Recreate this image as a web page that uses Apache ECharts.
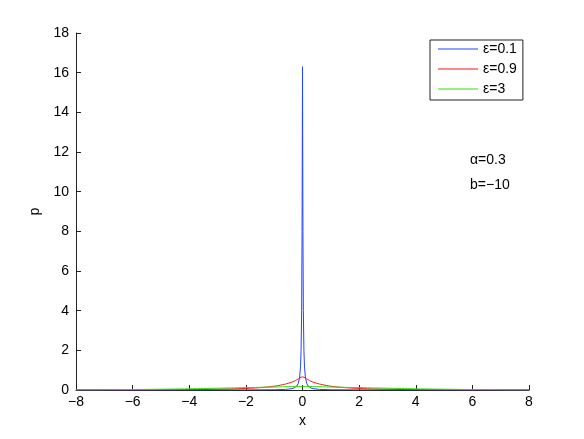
<!DOCTYPE html>
<html>
<head>
<meta charset="utf-8">
<script src="https://cdn.jsdelivr.net/npm/echarts@6/dist/echarts.min.js"></script>
<style>
  html, body { margin: 0; padding: 0; background: #fff; }
  #chart { width: 584px; height: 439px; }
</style>
</head>
<body>
<div id="chart"></div>
<script>
// values
var seriesNames = ['ε=0.1', 'ε=0.9', 'ε=3']
var seriesColors = ['#2244ff', '#ff1111', '#33dd00']

var xBlue = [-8, -4, -2, -1, -0.6, -0.4, -0.3, -0.2, -0.15, -0.1, -0.07, -0.05, -0.03, -0.015, 0,
  0.015, 0.03, 0.05, 0.07, 0.1, 0.15, 0.2, 0.3, 0.4, 0.6, 1, 2, 4, 8]
var yBlue = [0.0, 0.002, 0.005, 0.012, 0.03, 0.06, 0.1, 0.2, 0.33, 0.65, 1.2, 2.0, 4.0, 8.0, 16.3,
  8.0, 4.0, 2.0, 1.2, 0.65, 0.33, 0.2, 0.1, 0.06, 0.03, 0.012, 0.005, 0.002, 0.0]

var xRed = [-8, -6, -5, -4, -3, -2, -1.5, -1, -0.7, -0.5, -0.3, -0.2, -0.1, 0,
  0.1, 0.2, 0.3, 0.5, 0.7, 1, 1.5, 2, 3, 4, 5, 6, 8]
var yRed = [0.003, 0.008, 0.012, 0.02, 0.04, 0.08, 0.12, 0.19, 0.27, 0.34, 0.44, 0.52, 0.6, 0.66,
  0.6, 0.52, 0.44, 0.34, 0.27, 0.19, 0.12, 0.08, 0.04, 0.02, 0.012, 0.008, 0.003]

var xGreen = [-8, -7, -6, -5, -4, -3, -2, -1, -0.5, 0, 0.5, 1, 2, 3, 4, 5, 6, 7, 8]
var yGreen = [0.01, 0.015, 0.025, 0.04, 0.06, 0.09, 0.12, 0.15, 0.17, 0.18, 0.17, 0.15, 0.12, 0.09, 0.06, 0.04, 0.025, 0.015, 0.01]

var paramLines = ['α=0.3', 'b=−10']

function pairs (xs, ys) {
  return xs.map(function (x, i) { return [x, ys[i]] })
}

var chart = echarts.init(document.getElementById('chart'))
var font = 'Liberation Sans, Arial, sans-serif'
var axisColor = '#222'

var option = {
  backgroundColor: '#fff',
  animation: false,
  textStyle: { fontFamily: font },
  grid: { left: 76, right: 55, top: 33, bottom: 49, containLabel: false },
  legend: {
    orient: 'vertical',
    left: 430,
    top: 40,
    icon: 'rect',
    itemWidth: 40,
    itemHeight: 1,
    itemGap: 6,
    padding: [2, 6, 4, 8],
    borderColor: '#222',
    borderWidth: 1,
    backgroundColor: '#fff',
    textStyle: { fontFamily: font, fontSize: 14, color: '#000' },
    data: seriesNames
  },
  xAxis: {
    type: 'value',
    min: -8,
    max: 8,
    interval: 2,
    name: 'x',
    nameLocation: 'middle',
    nameGap: 24,
    nameTextStyle: { fontSize: 14, color: '#000' },
    axisLine: { onZero: false, lineStyle: { color: axisColor, width: 1 } },
    axisTick: { inside: true, length: 5, lineStyle: { color: axisColor } },
    axisLabel: { fontSize: 14, color: '#000', margin: 5, formatter: function (v) { return String(v).replace('-', '−') } },
    splitLine: { show: false }
  },
  yAxis: {
    type: 'value',
    min: 0,
    max: 18,
    interval: 2,
    name: 'p',
    nameLocation: 'middle',
    nameGap: 32,
    nameRotate: 90,
    nameTextStyle: { fontSize: 14, color: '#000' },
    axisLine: { show: true, onZero: false, lineStyle: { color: axisColor, width: 1 } },
    axisTick: { show: true, inside: true, length: 5, lineStyle: { color: axisColor } },
    axisLabel: { fontSize: 14, color: '#000', margin: 7 },
    splitLine: { show: false }
  },
  graphic: [{
    type: 'text',
    left: 470,
    top: 148,
    style: { text: paramLines.join('\n'), font: '14px ' + font, fill: '#000', lineHeight: 25 }
  }],
  series: [
    { name: seriesNames[0], type: 'line', showSymbol: false, smooth: false, z: 3, lineStyle: { color: seriesColors[0], width: 1 }, itemStyle: { color: seriesColors[0] }, data: pairs(xBlue, yBlue) },
    { name: seriesNames[1], type: 'line', showSymbol: false, smooth: true, z: 2, lineStyle: { color: seriesColors[1], width: 1 }, itemStyle: { color: seriesColors[1] }, data: pairs(xRed, yRed) },
    { name: seriesNames[2], type: 'line', showSymbol: false, smooth: true, z: 4, lineStyle: { color: seriesColors[2], width: 1 }, itemStyle: { color: seriesColors[2] }, data: pairs(xGreen, yGreen) }
  ]
}

chart.setOption(option)
</script>
</body>
</html>
